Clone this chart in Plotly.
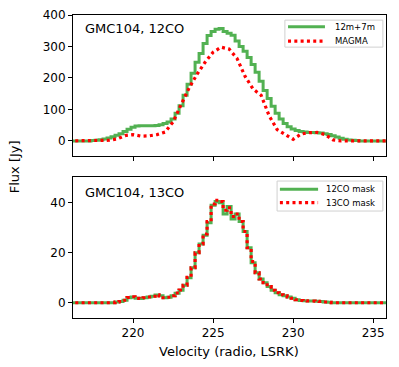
import numpy as np
import plotly.graph_objects as go

# velocity channels (km/s)
vel_fine = [216.0 + 0.25 * i for i in range(81)]
vel_magma = [216.0 + 0.5 * i for i in range(41)]

# Top panel: 12CO
flux_12m7m = [0, 0, 0, 0, 0, 0, 1, 2, 4, 6, 9, 13, 18, 23, 30, 37,
              43, 47, 48, 48, 48, 48, 49, 51, 55, 60, 70, 88, 112, 145, 180, 215,
              250, 278, 310, 335, 348, 355, 357, 348, 342, 336, 318, 300, 285, 265, 243, 218,
              190, 160, 135, 110, 88, 70, 55, 45, 38, 33, 30, 28, 27, 27, 26, 25,
              23, 20, 16, 12, 8, 5, 3, 2, 1, 0, 0, 0, 0, 0, 0, 0, 0]
flux_magma = [0, 0, 0, 0, 0, 2, 6, 17, 20, 15, 16, 20, 28, 60, 115, 168,
              212, 250, 282, 298, 292, 262, 205, 165, 145, 80, 36, 20, 5, 22, 26, 27,
              20, 3, 0, 0, 0, 0, 0, 0, 0]

# Bottom panel: 13CO
flux_12co_mask = [0, 0, 0, 0, 0, 0, 0, 0, 0, 0, 0, 0, 0.3, 0.5, 1.0, 2.0,
                  2.3, 1.8, 1.7, 2.0, 2.3, 2.6, 3.1, 2.8, 2.0, 2.2, 2.8, 3.8, 5.0, 7.0, 10, 14,
                  20, 23.5, 27, 32, 39, 40.5, 40, 35.5, 38.5, 33.5, 35.5, 32.5, 28.5, 22, 16, 12,
                  9.5, 8, 6.5, 5, 4, 3.2, 2.8, 2.3, 1.8, 1.2, 0.9, 0.8, 0.7, 0.7, 0.6, 0.5,
                  0.3, 0.2, 0, 0, 0, 0, 0, 0, 0, 0, 0, 0, 0, 0, 0, 0, 0]
flux_13co_mask = [0, 0, 0, 0, 0, 0, 0, 0, 0, 0, 0, 0, 0.3, 0.5, 1.0, 2.1,
                  2.4, 1.8, 1.7, 2.0, 2.3, 2.6, 3.2, 2.7, 2.0, 2.2, 2.8, 3.9, 5.1, 7.0, 10.2, 14,
                  20, 23.5, 27.5, 32.5, 39.5, 41, 40.5, 37, 38, 34.5, 35.5, 32.5, 28.5, 22, 16.5, 12,
                  9.5, 8, 6.5, 5, 4, 3.2, 2.8, 2.3, 1.8, 1.2, 0.9, 0.8, 0.7, 0.7, 0.6, 0.5,
                  0.3, 0.2, 0, 0, 0, 0, 0, 0, 0, 0, 0, 0, 0, 0, 0, 0, 0]

x_ticks = [220, 225, 230, 235]
top_y_ticks = [0, 100, 200, 300, 400]
bottom_y_ticks = [0, 20, 40]
top_legend_labels = ["12m+7m", "MAGMA"]
bottom_legend_labels = ["12CO mask", "13CO mask"]

GREEN = "rgba(0,140,0,0.68)"
RED = "rgb(255,0,0)"
FONT = "DejaVu Sans"
DOT = "3px,3.3px"

fig = go.Figure()
fig.add_trace(go.Scatter(x=vel_fine, y=flux_12m7m, mode="lines", line_shape="hvh",
                         line=dict(color=GREEN, width=3), name=top_legend_labels[0],
                         xaxis="x", yaxis="y"))
fig.add_trace(go.Scatter(x=vel_magma, y=flux_magma, mode="lines",
                         line=dict(color=RED, width=3.2, dash=DOT), name=top_legend_labels[1],
                         xaxis="x", yaxis="y"))
fig.add_trace(go.Scatter(x=vel_fine, y=flux_12co_mask, mode="lines", line_shape="hvh",
                         line=dict(color=GREEN, width=3), name=bottom_legend_labels[0],
                         xaxis="x2", yaxis="y2"))
fig.add_trace(go.Scatter(x=vel_fine, y=flux_13co_mask, mode="lines", line_shape="hvh",
                         line=dict(color=RED, width=3.2, dash=DOT), name=bottom_legend_labels[1],
                         xaxis="x2", yaxis="y2"))

axis_common = dict(showline=True, linecolor="black", linewidth=1, mirror=True,
                   ticks="outside", ticklen=4, tickcolor="black", showgrid=False,
                   zeroline=False, ticklabeloverflow="allow",
                   tickfont=dict(family=FONT, size=12, color="black"))

# page body has an 8px margin, so the figure is sized to fit the window from (8,8)
fig.update_layout(
    width=391, height=359,
    margin=dict(l=65, r=13, t=7, b=49, autoexpand=False),
    paper_bgcolor="white", plot_bgcolor="white",
    font=dict(family=FONT, color="black"),
    showlegend=False,
    xaxis=dict(domain=[0, 1], anchor="y", range=[216.25, 235.8],
               tickvals=x_ticks, showticklabels=False, **axis_common),
    yaxis=dict(domain=[0.5347, 1], anchor="x", range=[-48, 400.3],
               tickvals=top_y_ticks, **axis_common),
    xaxis2=dict(domain=[0, 1], anchor="y2", range=[216.25, 235.8],
                tickvals=x_ticks, **axis_common),
    yaxis2=dict(domain=[0, 0.4653], anchor="x2", range=[-6.1, 50.3],
                tickvals=bottom_y_ticks, **axis_common),
)

annotations = [
    dict(text="GMC104, 12CO", x=0.031, y=0.987, xanchor="left", yanchor="top",
         font=dict(family=FONT, size=13)),
    dict(text="GMC104, 13CO", x=0.031, y=0.447, xanchor="left", yanchor="top",
         font=dict(family=FONT, size=13)),
    dict(text="Flux [Jy]", x=-0.188, y=0.498, xanchor="center", yanchor="middle",
         textangle=-90, font=dict(family=FONT, size=13)),
    dict(text="Velocity (radio, LSRK)", x=0.498, y=-0.109, xanchor="center", yanchor="middle",
         font=dict(family=FONT, size=13)),
]
shapes = []

# hand-drawn legends (matplotlib-style compact boxes)
def add_legend(box, rows, line_x, text_x, labels, styles):
    shapes.append(dict(type="rect", xref="paper", yref="paper",
                       x0=box[0], x1=box[1], y0=box[2], y1=box[3],
                       line=dict(color="#d0d0d0", width=1), fillcolor="rgba(255,255,255,0.8)",
                       layer="above"))
    for ry, lab, st in zip(rows, labels, styles):
        shapes.append(dict(type="line", xref="paper", yref="paper",
                           x0=line_x[0], x1=line_x[1], y0=ry, y1=ry,
                           line=st, layer="above"))
        annotations.append(dict(text=lab, x=text_x, y=ry, xanchor="left", yanchor="middle",
                                font=dict(family=FONT, size=8.5)))

add_legend([0.677, 0.990, 0.894, 0.983], [0.961, 0.914], [0.687, 0.805], 0.831,
           top_legend_labels,
           [dict(color=GREEN, width=3), dict(color=RED, width=3.2, dash=DOT)])
add_legend([0.652, 0.990, 0.353, 0.452], [0.425, 0.381], [0.661, 0.783], 0.802,
           bottom_legend_labels,
           [dict(color=GREEN, width=3), dict(color=RED, width=3.2, dash=DOT)])

for a in annotations:
    a.update(xref="paper", yref="paper", showarrow=False)

fig.update_layout(annotations=annotations, shapes=shapes)

fig.write_html("out.html")
